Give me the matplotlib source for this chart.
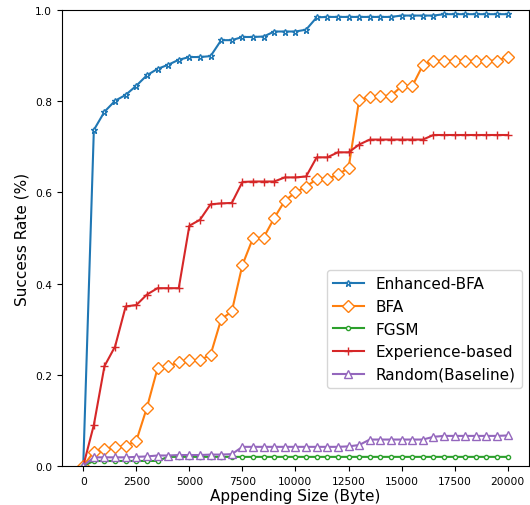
import numpy as np
import matplotlib
matplotlib.use('Agg')
import matplotlib.pyplot as plt

sizes = np.arange(0, 20001, 500)

enhanced_bfa = [0.0, 0.737, 0.777, 0.801, 0.814, 0.834, 0.857, 0.871, 0.880, 0.891,
                0.897, 0.897, 0.899, 0.934, 0.934, 0.941, 0.941, 0.942, 0.953, 0.953,
                0.953, 0.957, 0.984, 0.985, 0.985, 0.985, 0.985, 0.985, 0.985, 0.985,
                0.988, 0.988, 0.988, 0.988, 0.991, 0.991, 0.991, 0.991, 0.991, 0.991,
                0.991]
bfa = [0.0, 0.031, 0.037, 0.041, 0.044, 0.055, 0.128, 0.214, 0.219, 0.227,
       0.232, 0.232, 0.244, 0.322, 0.339, 0.441, 0.500, 0.501, 0.544, 0.582,
       0.600, 0.613, 0.629, 0.629, 0.640, 0.653, 0.803, 0.810, 0.812, 0.812,
       0.833, 0.833, 0.879, 0.889, 0.889, 0.889, 0.889, 0.889, 0.889, 0.889,
       0.898]
fgsm = [0.0, 0.011, 0.011, 0.011, 0.011, 0.011, 0.011, 0.011, 0.020, 0.020,
        0.020, 0.020, 0.020, 0.020, 0.020, 0.020, 0.020, 0.020, 0.020, 0.020,
        0.020, 0.020, 0.020, 0.020, 0.020, 0.020, 0.020, 0.020, 0.020, 0.020,
        0.020, 0.020, 0.020, 0.020, 0.020, 0.020, 0.020, 0.020, 0.020, 0.020,
        0.020]
experience = [0.0, 0.090, 0.219, 0.262, 0.350, 0.353, 0.376, 0.390, 0.390, 0.390,
              0.527, 0.540, 0.574, 0.576, 0.577, 0.623, 0.624, 0.624, 0.624, 0.633,
              0.633, 0.635, 0.677, 0.677, 0.688, 0.688, 0.705, 0.716, 0.716, 0.716,
              0.716, 0.716, 0.716, 0.726, 0.726, 0.726, 0.726, 0.726, 0.726, 0.726,
              0.726]
random_base = [0.0, 0.019, 0.019, 0.019, 0.019, 0.020, 0.021, 0.023, 0.023, 0.024,
               0.024, 0.024, 0.025, 0.025, 0.026, 0.042, 0.042, 0.042, 0.042, 0.042,
               0.042, 0.042, 0.042, 0.042, 0.042, 0.043, 0.046, 0.058, 0.058, 0.058,
               0.058, 0.058, 0.058, 0.064, 0.066, 0.066, 0.066, 0.066, 0.066, 0.066,
               0.067]

fig = plt.figure(figsize=(5.3, 5.06), dpi=100)
ax = fig.add_axes([0.117, 0.0771, 0.881, 0.901])

ax.plot(sizes, enhanced_bfa, color='tab:blue', marker='*', markersize=5,
        markerfacecolor='white', markeredgewidth=1.0, label='Enhanced-BFA')
ax.plot(sizes, bfa, color='tab:orange', marker='D', markersize=6,
        markerfacecolor='white', markeredgewidth=1.0, label='BFA')
ax.plot(sizes, fgsm, color='tab:green', marker='o', markersize=3,
        markerfacecolor='white', markeredgewidth=1.0, label='FGSM')
ax.plot(sizes, experience, color='tab:red', marker='+', markersize=6,
        markeredgewidth=1.0, label='Experience-based')
ax.plot(sizes, random_base, color='tab:purple', marker='^', markersize=5.5,
        markerfacecolor='white', markeredgewidth=1.0, label='Random(Baseline)')

ax.set_ylim(0, 1.0)
ax.set_xticks(np.arange(0, 20001, 2500))
ax.set_yticks(np.arange(0, 1.01, 0.2))
ax.tick_params(labelsize=7.7)
ax.set_xlabel('Appending Size (Byte)', fontsize=11, labelpad=2)
ax.set_ylabel('Success Rate (%)', fontsize=11)
ax.legend(loc='lower right', bbox_to_anchor=(0.985, 0.171), borderaxespad=0,
          fontsize=11)

fig.savefig('out.png', dpi=100)
